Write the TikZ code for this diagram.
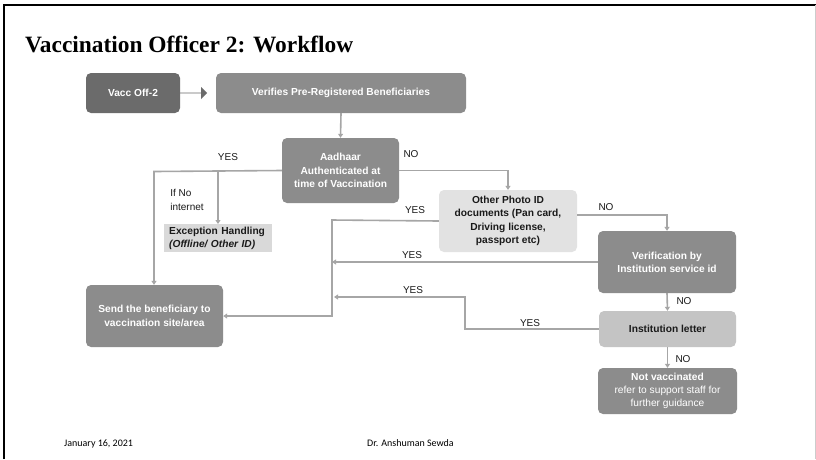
\documentclass[tikz,border=0pt]{standalone}
\usepackage{fontspec}
\setmainfont{Liberation Serif}
\setsansfont{Liberation Sans}
\newfontfamily\footfont{Carlito}
\usetikzlibrary{arrows.meta,shapes.arrows}
\definecolor{darkbox}{HTML}{6B6B6B}
\definecolor{midbox}{HTML}{8C8C8C}
\definecolor{lightbox}{HTML}{E2E2E2}
\definecolor{letterbox}{HTML}{C4C4C4}
\definecolor{excbox}{HTML}{D9D9D9}
\definecolor{conn}{HTML}{A6A6A6}
\definecolor{txtdark}{HTML}{1A1A1A}
\tikzset{
  box/.style={rounded corners=5pt, align=center, inner sep=2pt,
    font=\sffamily\bfseries\fontsize{10.2}{13.3}\selectfont},
  whitebox/.style={box, text=white},
  darkfill/.style={whitebox, fill=darkbox},
  midfill/.style={whitebox, fill=midbox},
  lightfill/.style={box, fill=lightbox, text=txtdark},
  letterfill/.style={box, fill=letterbox, text=txtdark},
  link/.style={draw=conn, line width=1.6pt, -{Triangle[width=5pt,length=4pt]}},
  plain/.style={draw=conn, line width=1.6pt},
  lbl/.style={font=\sffamily\fontsize{10}{14}\selectfont, text=txtdark, inner sep=0pt, align=left},
}
\begin{document}
\begin{tikzpicture}[x=1pt,y=-1pt]
\useasboundingbox (0,0) rectangle (816,459);
\fill[white] (0,0) rectangle (816,459);
% frame
\draw[black, line width=2pt] (4,459) -- (4,5) -- (816,5);
\draw[gray!40, line width=0.8pt] (815,5) -- (815,459);
% title
\node[anchor=base west, inner sep=0pt, font=\bfseries\fontsize{23.4}{26}\selectfont] (title) at (25,52) {Vaccination Officer 2: Workflow};
% boxes
\node[darkfill, minimum width=94pt, minimum height=40pt] (vacc) at (133,93) {Vacc Off-2};
\node[midfill, minimum width=250pt, minimum height=40pt] (verif) at (341,93) {Verifies Pre-Registered Beneficiaries};
\node[midfill, minimum width=117pt, minimum height=65pt] (aadh) at (340.5,170.5) {Aadhaar\\Authenticated at\\time of Vaccination};
\node[lightfill, minimum width=138pt, minimum height=62pt] (photo) at (508,221) {Other Photo ID\\documents (Pan card,\\Driving license,\\passport etc)};
\node[midfill, minimum width=138pt, minimum height=62pt] (inst) at (667,262) {Verification by\\Institution service id};
\node[midfill, minimum width=137pt, minimum height=62pt] (send) at (154.5,316) {Send the beneficiary to\\vaccination site/area};
\node[letterfill, minimum width=137pt, minimum height=36pt] (letter) at (667.5,329) {Institution letter};
\node[midfill, minimum width=139pt, minimum height=46pt] (notv) at (667.5,391) {Not vaccinated\\{\mdseries refer to support staff for}\\{\mdseries further guidance}};
\node[box, rounded corners=0pt, fill=excbox, text=txtdark, minimum width=108pt, minimum height=28pt, text width=98pt, inner xsep=5pt, align=left, anchor=north west] (exc) at (164,224) {Exception Handling\\\textit{(Offline/ Other ID)}};
% thick arrow
\node[single arrow, fill=darkbox, minimum height=27pt, single arrow head extend=3.5pt, minimum width=12pt, inner sep=0pt, anchor=west] (thick) at (180,93) {};
% coordinates
\coordinate (ya) at (154,171.5);
\coordinate (yb) at (218,171.5);
\coordinate (bus) at (332,220);
% connectors
\draw[link] (verif.south) -- (aadh.north);
\draw[link] (aadh.west) -- (ya) -- (send.north -| ya);
\draw[link] (yb) -- (exc.north -| yb);
\draw[link] (aadh.east) -| (photo.north);
\draw[link] (photo.east) ++(0,-6) -| (inst.north);
\draw[link] (photo.west) -- (bus) -- (bus |- send.east) -- (send.east);
\draw[link] (inst.west) -- (inst.west -| bus);
\draw[link] (letter.west) -- (465,329) -- (465,297) -- (334,297);
\draw[link] (inst.south) -- (letter.north);
\draw[link] (letter.south) -- (notv.north);
% labels
\node[lbl] (l1) at (228,157) {YES};
\node[lbl] (l2) at (411,154) {NO};
\node[lbl] (l3) at (187,200) {If No\\internet};
\node[lbl] (l4) at (415,210) {YES};
\node[lbl] (l5) at (606,207) {NO};
\node[lbl] (l6) at (412,255) {YES};
\node[lbl] (l7) at (413,290) {YES};
\node[lbl] (l8) at (530,323) {YES};
\node[lbl] (l9) at (684,301) {NO};
\node[lbl] (l10) at (683,359) {NO};
% footer
\node[anchor=base west, inner sep=0pt, font=\footfont\fontsize{10}{12}\selectfont] (date) at (64,446) {January 16, 2021};
\node[anchor=base west, inner sep=0pt, font=\footfont\fontsize{10}{12}\selectfont] (auth) at (367,446) {Dr. Anshuman Sewda};
\end{tikzpicture}
\end{document}
